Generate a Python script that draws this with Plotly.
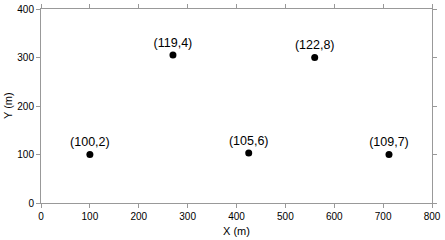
import plotly.graph_objects as go

xs = [100, 270, 425, 560, 712]
ys = [100, 305, 103, 300, 100]
labels = ["(100,2)", "(119,4)", "(105,6)", "(122,8)", "(109,7)"]

FONT = "Liberation Sans, Arial"
fig = go.Figure(go.Scatter(
    x=xs, y=ys, mode="markers+text", text=labels, textposition="top center",
    marker=dict(color="black", size=7),
    textfont=dict(family=FONT, size=12.5, color="black"),
    cliponaxis=False,
))

ax = dict(showgrid=False, zeroline=False, showline=True, linecolor="#999", linewidth=1,
          mirror="ticks", ticks="outside", ticklen=4, tickcolor="#999", automargin=False,
          tickfont=dict(family=FONT, size=10, color="black"))
fig.update_xaxes(range=[0, 800], dtick=100, **ax)
fig.update_yaxes(range=[0, 400], dtick=100, **ax)
fig.add_annotation(text="X (m)", xref="paper", yref="paper", x=0.5, y=-28/194,
                   xanchor="center", yanchor="middle", showarrow=False,
                   font=dict(family=FONT, size=11, color="black"))
fig.add_annotation(text="Y (m)", xref="paper", yref="paper", x=-33/391, y=0.5,
                   xanchor="center", yanchor="middle", showarrow=False, textangle=-90,
                   font=dict(family=FONT, size=11, color="black"))
fig.update_layout(width=445, height=240, margin=dict(l=41, r=13, t=9, b=37),
                  plot_bgcolor="white", paper_bgcolor="white", showlegend=False)
fig.write_html("out.html")
